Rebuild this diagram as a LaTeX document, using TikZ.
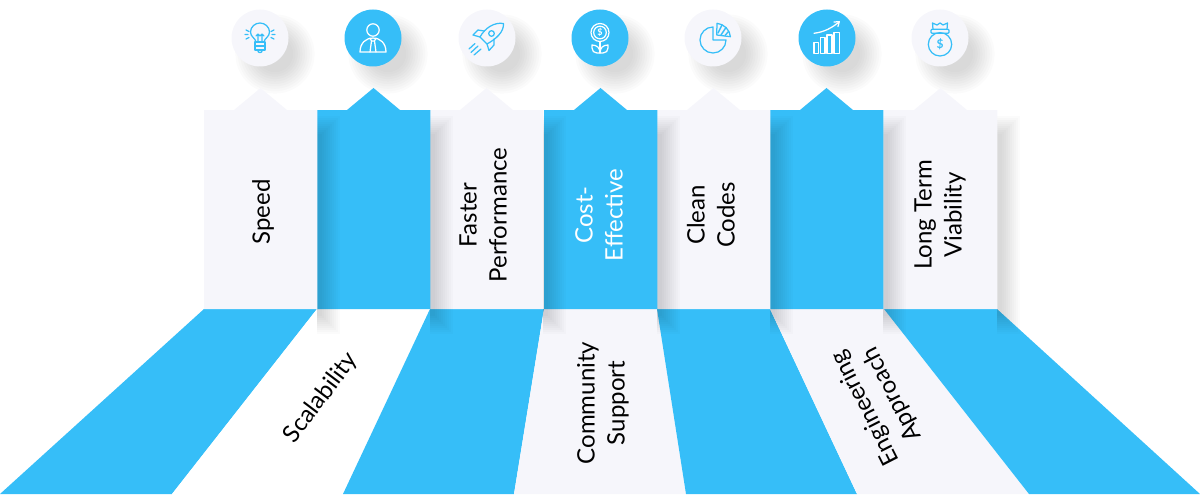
\documentclass[tikz,border=0pt]{standalone}
\usepackage{fontspec}
\setmainfont{Lato}
\usepackage{tikz}
\definecolor{skyc}{HTML}{36BEF8}
\definecolor{palec}{HTML}{F6F6FB}
\tikzset{label/.style={font=\fontsize{24}{30}\selectfont, align=center, text=black, inner sep=0pt},
  disc/.style={circle, fill=#1, inner sep=0pt, minimum size=57pt},
  glyph/.style={draw=#1, line width=1.25pt, line cap=round, line join=round}}
% soft shadow right of a column, right edge given
\newcommand{\colshadow}[1]{
  \foreach \k in {0,...,9} {
    \fill[black, opacity=0.016] (#1,134-2*\k) rectangle (#1+5+2*\k,316+2*\k);
  }}
% soft shadow of a round icon
\newcommand{\discshadow}[2]{
  \foreach \k in {0,...,9} {
    \fill[black, opacity=0.014] (#1+15,#2+16) circle (18pt+2.4pt*\k);
  }}

\begin{document}
\begin{tikzpicture}[x=1pt, y=-1pt]
    \useasboundingbox (0,0) rectangle (1200,495);
    % fan at the bottom
    \foreach \xa/\xb/\xc/\xd/\col in {204/317/172/0/skyc, 317/430/343/172/white, 430/544/514/343/skyc,
        544/657/686/514/palec, 657/770/857/686/skyc, 770/884/1029/857/palec, 884/997/1200/1029/skyc} {
      \fill[\col] (\xa,309) -- (\xb,309) -- (\xc,494) -- (\xd,494) -- cycle;
    }
    % shadows of the icons
    \foreach \cx in {260,373,487,600,713,827,940} {
      \discshadow{\cx}{38}
    }
    % columns, right one first so that each shadow falls on its neighbour
    \foreach \xl/\col in {884/palec, 770/skyc, 657/palec, 544/skyc, 430/palec, 317/skyc, 204/palec} {
      \colshadow{\xl+113.3}
      \fill[\col] (\xl,110) -- (\xl+30,110) -- (\xl+56.5,88) -- (\xl+83,110) -- (\xl+113.3,110)
        -- (\xl+113.3,309) -- (\xl,309) -- cycle;
    }
    % icons
    \node[disc=palec] (bulb) at (260,38) {};
    \node[disc=skyc] (person) at (373,38) {};
    \node[disc=palec] (rocket) at (487,38) {};
    \node[disc=skyc] (plant) at (600,38) {};
    \node[disc=palec] (pie) at (713,38) {};
    \node[disc=skyc] (chart) at (827,38) {};
    \node[disc=palec] (bag) at (940,38) {};
    \begin{scope}[shift={(bulb.center)}, glyph=skyc]
      \draw (-4,4) .. controls (-4.5,0) and (-9.5,-1) .. (-9.5,-6) .. controls (-9.5,-11) and (-5,-15) .. (0,-15)
        .. controls (5,-15) and (9.5,-11) .. (9.5,-6) .. controls (9.5,-1) and (4.5,0) .. (4,4);
      \draw (-5,4) -- (5,4) -- (5,12) -- (-5,12) -- cycle (-5,8) -- (5,8);
      \draw (-2.5,12) .. controls (-2,15.5) and (2,15.5) .. (2.5,12);
      \draw (-2,4) -- (-2,-2) (2,4) -- (2,-2) (-4,-2) -- (-2,-4) -- (0,-2) -- (2,-4) -- (4,-2);
      \draw (-14,-8) -- (-11,-6.5) (-15,-3.5) -- (-12,-3.5) (-14,1) -- (-11,-0.5);
      \draw (14,-8) -- (11,-6.5) (15,-3.5) -- (12,-3.5) (14,1) -- (11,-0.5);
    \end{scope}
    \begin{scope}[shift={(person.center)}, glyph=white]
      \draw (0,-8) circle (6.2pt);
      \draw (-13,14) -- (13,14) .. controls (13,5) and (7,0) .. (0,0) .. controls (-7,0) and (-13,5) .. (-13,14) -- cycle;
      \draw (-3,14) -- (-1.5,3) -- (1.5,3) -- (3,14) (-3,0) -- (-1.5,3) (3,0) -- (1.5,3);
    \end{scope}
    \begin{scope}[shift={(rocket.center)}, glyph=skyc]
      \draw (16.5,-14.5) .. controls (7,-16) and (-2,-10) .. (-7,-1) -- (0,6) .. controls (9,1) and (17,-6) .. (16.5,-14.5) -- cycle;
      \draw (-3,-7) -- (-9,-8) -- (-14,-3) -- (-7,-1);
      \draw (7,1) -- (7,7) -- (2,12.5) -- (0,6);
      \draw (4.5,-4.5) circle (2.8pt);
      \draw (-9,8) -- (-16,14.5) (-6,11) -- (-13,17) (-12,5.5) -- (-18,11);
    \end{scope}
    \begin{scope}[shift={(plant.center)}, glyph=white]
      \draw (0,-5.5) circle (9pt) (0,-5.5) circle (6.3pt);
      \node[font=\fontsize{9}{9}\bfseries\selectfont, text=white, inner sep=0pt] (plantcoin) at (0,-5.5) {\$};
      \draw (0,3.5) -- (0,15);
      \draw (-8,7) .. controls (-3,7) and (0,10) .. (0,15) .. controls (0,10) and (3,7) .. (8,7)
        -- (8,10) .. controls (8,13) and (6,15) .. (3,15) -- (-3,15) .. controls (-6,15) and (-8,13) .. (-8,10) -- cycle;
    \end{scope}
    \begin{scope}[shift={(pie.center)}, glyph=skyc]
      \draw (0,-11) arc[start angle=90, end angle=360, radius=13pt] -- (0,2) -- cycle;
      \draw (3.7,-3) -- (4,-14.7) .. controls (11,-14) and (17,-8) .. (17.4,-1.3) -- cycle;
      \draw[line width=1.4pt] (5,-5) -- (9,-13) (8,-3) -- (13,-10.5) (12,-2.5) -- (15.5,-6.5);
    \end{scope}
    \begin{scope}[shift={(chart.center)}, glyph=white]
      \draw (-13,4.3) rectangle (-8.7,15.3) (-6.3,-0.3) rectangle (-2,15.3)
        (0,-3) rectangle (5,15.3) (7,-5.7) rectangle (12.3,15.3);
      \draw (-13,-4.7) .. controls (-3,-6) and (5,-10) .. (12.3,-16.3);
      \draw (7,-16) -- (12.3,-16.3) -- (11,-11.5);
    \end{scope}
    \begin{scope}[shift={(bag.center)}, glyph=skyc]
      \draw (0,6.3) circle (11.7pt);
      \draw[rounded corners=1pt] (-9,-8.7) rectangle (9,-4.7);
      \draw (-7,-8.7) -- (-7.5,-15) -- (-3,-13) -- (0,-15) -- (3,-13) -- (7.5,-15) -- (7,-8.7);
      \node[font=\fontsize{12}{12}\bfseries\selectfont, text=skyc, inner sep=0pt] (bagcoin) at (0,6.3) {\$};
    \end{scope}
    % labels
    \node[label, rotate=90] (speed) at (263,212) {Speed};
    \node[label, rotate=90] (faster) at (483,215) {Faster\\Performance};
    \node[label, rotate=90, text=white] (cost) at (599,215) {Cost-\\Effective};
    \node[label, rotate=90] (clean) at (711,215) {Clean\\Codes};
    \node[label, rotate=90] (longterm) at (940,215) {Long Term\\Viability};
    \node[label, rotate=53] (scal) at (321,398) {Scalability};
    \node[label, rotate=90] (community) at (603,403) {Community\\Support};
    \node[label, rotate=117] (engineering) at (879,401) {Engineering\\Approach};
\end{tikzpicture}
\end{document}
